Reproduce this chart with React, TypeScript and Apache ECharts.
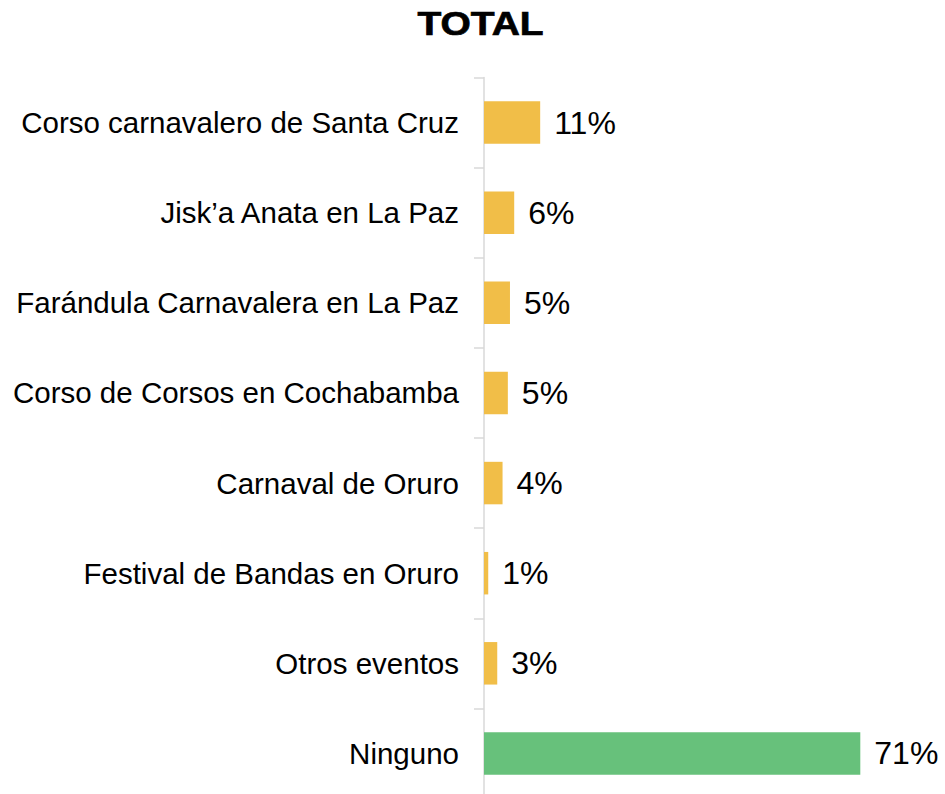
import React, { useEffect, useRef } from "react";
import * as echarts from "echarts";

const categories = [
  "Corso carnavalero de Santa Cruz",
  "Jisk’a Anata en La Paz",
  "Farándula Carnavalera en La Paz",
  "Corso de Corsos en Cochabamba",
  "Carnaval de Oruro",
  "Festival de Bandas en Oruro",
  "Otros eventos",
  "Ninguno",
];
const values = [10.6, 5.7, 4.9, 4.5, 3.5, 0.8, 2.5, 71];
const valueLabels = ["11%", "6%", "5%", "5%", "4%", "1%", "3%", "71%"];
const barColors = ["#F1BE48", "#F1BE48", "#F1BE48", "#F1BE48", "#F1BE48", "#F1BE48", "#F1BE48", "#67C17B"];
const titleText = "TOTAL";

export default function App() {
  const ref = useRef<HTMLDivElement>(null);
  useEffect(() => {
    if (!ref.current) return;
    const chart = echarts.init(ref.current, undefined, { renderer: "svg" });
    const font = "'Liberation Sans', Arial, sans-serif";
    chart.setOption({
      animation: false,
      backgroundColor: "#ffffff",
      graphic: [
        {
          type: "text",
          x: 480.5,
          y: 24,
          scaleX: 1.18,
          style: {
            text: titleText,
            fontFamily: font,
            fontSize: 33,
            fontWeight: "bold",
            fill: "#000",
            stroke: "#000",
            lineWidth: 0.7,
            textAlign: "center",
            textVerticalAlign: "middle",
          },
        },
      ],
      grid: {
        left: 484,
        top: 77.5,
        width: 424,
        height: 721,
        containLabel: false,
        outerBoundsMode: "none",
      },
      xAxis: { type: "value", min: 0, max: 80, show: false },
      yAxis: {
        type: "category",
        data: categories,
        inverse: true,
        axisLine: { show: true, lineStyle: { color: "#D9D9D9", width: 1.5 } },
        axisTick: { show: true, length: 10, lineStyle: { color: "#D9D9D9", width: 1.5 } },
        axisLabel: { fontFamily: font, fontSize: 29.5, color: "#000", margin: 25 },
        splitLine: { show: false },
      },
      series: [
        {
          type: "bar",
          barWidth: 42.5,
          data: values.map((v, i) => ({ value: v, itemStyle: { color: barColors[i] } })),
          label: {
            show: true,
            position: "right",
            distance: 14,
            fontFamily: font,
            fontSize: 32,
            color: "#000",
            formatter: (p: any) => valueLabels[p.dataIndex],
          },
        },
      ],
    });
    return () => chart.dispose();
  }, []);
  return (
    <div
      ref={ref}
      style={{ position: "absolute", left: 0, top: 0, width: 945, height: 794 }}
    />
  );
}
